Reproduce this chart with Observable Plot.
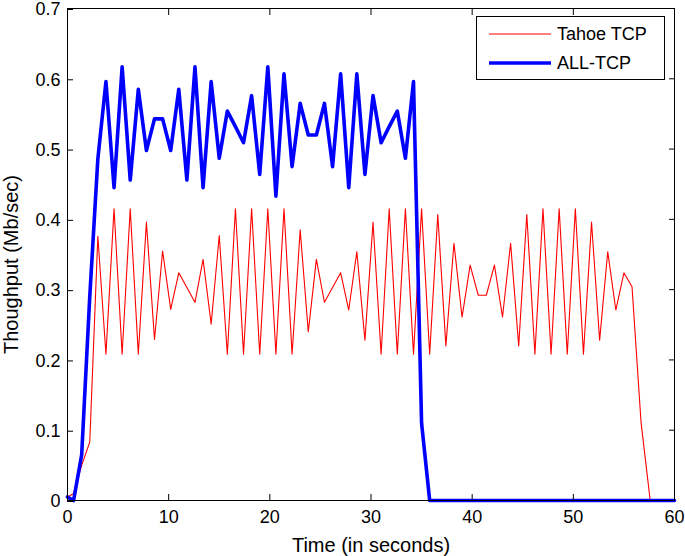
<!DOCTYPE html>
<html>
<head>
<meta charset="utf-8">
<script src="https://cdn.jsdelivr.net/npm/d3@7"></script>
<script src="https://cdn.jsdelivr.net/npm/@observablehq/plot@0.6"></script>
<style>
  html, body { margin: 0; padding: 0; background: #fff; }
  #wrap { position: relative; width: 685px; height: 556px; font-family: "Liberation Sans", Arial, sans-serif; }
  #legend { position: absolute; left: 476px; top: 16px; width: 189px; height: 64px; border: 1px solid #000; background: #fff; box-sizing: border-box; }
  .item { position: absolute; left: 12px; height: 20px; display: flex; align-items: center; font-size: 18px; color: #000; }
  .item svg { margin-right: 6px; }
</style>
</head>
<body>
<div id="wrap"></div>
<script>
const seriesNames = ["Tahoe TCP", "ALL-TCP"];
const seriesColors = ["#ff0000", "#0000ff"];

const tahoeTime = [0, 0.6, 1.4, 2.2,
  3.0, 3.8, 4.6, 5.4, 6.2, 7.0, 7.8, 8.6, 9.4, 10.2, 11.0, 11.8, 12.6, 13.4, 14.2, 15.0,
  15.8, 16.6, 17.4, 18.2, 19.0, 19.8, 20.6, 21.4, 22.2, 23.0, 23.8, 24.6, 25.4, 26.2, 27.0,
  27.8, 28.6, 29.4, 30.2, 31.0, 31.8, 32.6, 33.4, 34.2, 35.0, 35.8, 36.6, 37.4, 38.2, 39.0,
  39.8, 40.6, 41.4, 42.2, 43.0, 43.8, 44.6, 45.4, 46.2, 47.0, 47.8, 48.6, 49.4, 50.2, 51.0,
  51.8, 52.6, 53.4, 54.2, 55.0, 55.8, 56.7, 57.6, 60];
const tahoeValue = [0.005, 0.01, 0.05, 0.083,
  0.376, 0.208, 0.415, 0.208, 0.415, 0.208, 0.396, 0.229, 0.355, 0.272, 0.324, 0.303, 0.282, 0.343, 0.251, 0.377,
  0.208, 0.415, 0.208, 0.415, 0.208, 0.415, 0.208, 0.415, 0.208, 0.385, 0.240, 0.343, 0.282, 0.303, 0.324,
  0.271, 0.354, 0.228, 0.396, 0.208, 0.415, 0.208, 0.415, 0.208, 0.415, 0.208, 0.407, 0.220, 0.366, 0.261,
  0.335, 0.292, 0.292, 0.335, 0.261, 0.366, 0.220, 0.407, 0.208, 0.415, 0.208, 0.415, 0.208, 0.415, 0.208,
  0.396, 0.228, 0.354, 0.271, 0.324, 0.304, 0.11, 0, 0];

const allTime = [0, 0.6, 1.4, 2.2,
  3.0, 3.8, 4.6, 5.4, 6.2, 7.0, 7.8, 8.6, 9.4, 10.2, 11.0, 11.8, 12.6, 13.4, 14.2, 15.0,
  15.8, 16.6, 17.4, 18.2, 19.0, 19.8, 20.6, 21.4, 22.2, 23.0, 23.8, 24.6, 25.4, 26.2, 27.0,
  27.8, 28.6, 29.4, 30.2, 31.0, 31.8, 32.6, 33.4, 34.2, 35.0, 35.8, 60];
const allValue = [0.005, 0.0, 0.065, 0.29,
  0.486, 0.596, 0.445, 0.617, 0.456, 0.585, 0.498, 0.543, 0.543, 0.498, 0.585, 0.456, 0.617, 0.445, 0.596, 0.487,
  0.554, 0.532, 0.509, 0.576, 0.464, 0.617, 0.433, 0.607, 0.475, 0.565, 0.520, 0.520, 0.565, 0.475, 0.607,
  0.445, 0.607, 0.464, 0.576, 0.509, 0.532, 0.554, 0.487, 0.596, 0.11, 0.0, 0.0];

const xTicks = [0, 10, 20, 30, 40, 50, 60];
const yTicks = [0, 0.1, 0.2, 0.3, 0.4, 0.5, 0.6, 0.7];
const yTickLabels = ["0", "0.1", "0.2", "0.3", "0.4", "0.5", "0.6", "0.7"];
const xLabel = "Time (in seconds)";
const yLabel = "Thoughput (Mb/sec)";

const tahoe = tahoeTime.map((t, i) => ({t, v: tahoeValue[i]}));
const all = allTime.map((t, i) => ({t, v: allValue[i]}));

const chart = Plot.plot({
  width: 685,
  height: 556,
  marginLeft: 67,
  marginRight: 11,
  marginTop: 8,
  marginBottom: 56,
  style: {fontFamily: "'Liberation Sans', Arial, sans-serif", fontSize: "18px", color: "#000", background: "#fff", overflow: "visible"},
  x: {domain: [0, 60]},
  y: {domain: [0, 0.7]},
  marks: [
    Plot.line(tahoe, {x: "t", y: "v", stroke: seriesColors[0], strokeWidth: 1.1}),
    Plot.line(all, {x: "t", y: "v", stroke: seriesColors[1], strokeWidth: 3.6}),
    Plot.frame({stroke: "#000", strokeWidth: 1}),
    Plot.axisX({anchor: "bottom", ticks: xTicks, tickSize: -6, tickPadding: 16, label: null, fontSize: 18, tickFormat: d => String(d)}),
    Plot.axisX({anchor: "top", ticks: xTicks, tickSize: -6, label: null, tickFormat: () => ""}),
    Plot.axisY({anchor: "left", ticks: yTicks, tickSize: -6, tickPadding: 13, dy: 1, label: null, fontSize: 18, tickFormat: d => yTickLabels[yTicks.indexOf(d)]}),
    Plot.axisY({anchor: "right", ticks: yTicks, tickSize: -6, label: null, tickFormat: () => ""}),
    Plot.text([xLabel], {frameAnchor: "bottom", text: d => d, dy: 37, lineAnchor: "top", textAnchor: "middle", fontSize: 20}),
    Plot.text([yLabel], {frameAnchor: "left", text: d => d, dx: -56, dy: 10, rotate: -90, textAnchor: "middle", fontSize: 20})
  ]
});

const wrap = document.getElementById("wrap");
wrap.appendChild(chart);

const legend = document.createElement("div");
legend.id = "legend";
seriesNames.forEach((name, i) => {
  const item = document.createElement("div");
  item.className = "item";
  item.style.top = (i === 0 ? 7 : 36) + "px";
  const w = i === 0 ? 1.1 : 3.6;
  item.innerHTML = `<svg width="62" height="8"><line x1="0" x2="62" y1="4" y2="4" stroke="${seriesColors[i]}" stroke-width="${w}"/></svg><span>${name}</span>`;
  legend.appendChild(item);
});
wrap.appendChild(legend);
</script>
</body>
</html>
